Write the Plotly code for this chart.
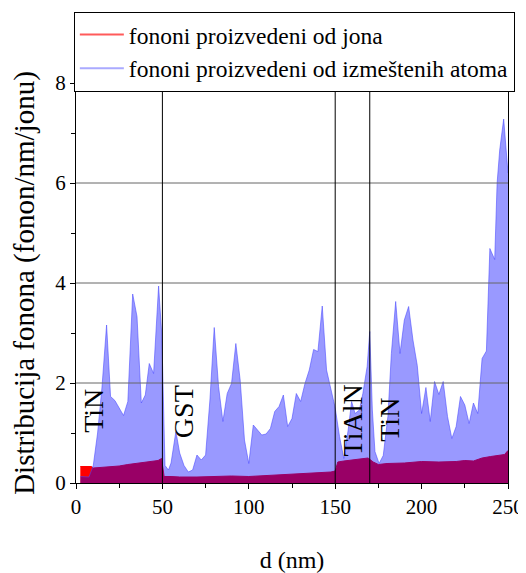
import plotly.graph_objects as go

# ---- data ----
d_ion = [2.5, 5, 7.5, 9, 10, 15, 20, 25, 30, 35, 40, 45, 47.5, 49.5, 51, 55, 60, 70, 80, 90,
         100, 110, 120, 130, 140, 147.5, 150, 151.5, 155, 160, 165, 169, 172, 175, 180, 190,
         200, 210, 220, 225, 230, 235, 240, 245, 248, 250]
ion = [0.33, 0.33, 0.33, 0.33, 0.30, 0.31, 0.33, 0.34, 0.37, 0.39, 0.41, 0.44, 0.45, 0.49, 0.13,
       0.13, 0.12, 0.12, 0.13, 0.14, 0.13, 0.15, 0.16, 0.18, 0.20, 0.22, 0.24, 0.42, 0.44, 0.46,
       0.47, 0.50, 0.42, 0.37, 0.39, 0.40, 0.43, 0.42, 0.43, 0.45, 0.44, 0.50, 0.53, 0.55, 0.57, 0.65]

d_atom = [2.5, 5, 7.5, 10, 12.5, 15, 17.7, 20, 22.5, 25, 27.5, 30, 32.8, 35.3, 37.8, 40.1, 42.4,
          44.9, 47.8, 49.7, 51.5, 53.5, 55, 57.8, 60, 62.5, 65, 67.5, 70, 72.5, 75, 77.5, 80, 82.5,
          85, 87.5, 90, 92.5, 95, 97.5, 100, 102.6, 105, 107.5, 110, 112.5, 115, 117.5, 120,
          122.5, 125, 127.5, 130, 132.5, 135, 137.5, 140, 142.5, 145, 147.5, 150, 152.5, 155,
          157.5, 159.5, 161.5, 164, 166, 168.5, 170, 171.5, 173, 175.4, 177.8, 180.5, 182.5, 185,
          187.5, 190, 192.5, 195, 197.5, 200, 202.5, 205, 207.5, 210, 212.5, 215, 217.5, 220,
          222.5, 225, 227.5, 230, 232.5, 235, 237.5, 239.5, 242.3, 243.7, 245.2, 247.5, 250]
atom = [0.13, 0.13, 0.12, 0.35, 1.0, 1.9, 3.16, 1.73, 1.65, 1.5, 1.35, 1.63, 3.78, 3.33, 1.6, 1.76,
        2.39, 2.19, 3.94, 2.93, 0.35, 0.26, 0.4, 1.03, 0.6, 0.35, 0.22, 0.26, 0.56, 0.46, 0.56, 1.66,
        3.11, 1.93, 1.23, 1.79, 1.99, 2.79, 2.06, 0.86, 0.39, 1.16, 1.05, 0.96, 0.98, 1.09, 1.43,
        1.53, 1.76, 1.13, 1.29, 1.79, 1.63, 1.99, 2.26, 2.67, 2.63, 3.54, 2.26, 1.86, 1.5, 0.93,
        0.49, 1.06, 1.63, 1.39, 1.46, 1.79, 2.33, 3.03, 1.46, 0.63, 0.39, 0.55, 1.33, 2.59, 3.63,
        2.59, 3.26, 3.53, 2.86, 2.35, 1.39, 1.91, 1.23, 2.03, 1.77, 2.03, 1.33, 0.89, 1.13, 1.73,
        1.56, 1.19, 1.6, 1.39, 2.49, 2.64, 4.69, 4.47, 6.0, 6.66, 7.28, 6.2]

series_names = ["fononi proizvedeni od jona", "fononi proizvedeni od izmeštenih atoma"]
layer_boundaries = [50, 150, 170]
layer_names = ["TiN", "GST", "TiAlN", "TiN"]
layer_label_x = [10, 62, 160, 181]
layer_label_y = [1.45, 1.42, 1.26, 1.26]
x_ticks = [0, 50, 100, 150, 200, 250]
y_ticks = [0, 2, 4, 6, 8]
y_grid = [2, 4, 6]

FONT = "Liberation Serif"

fig = go.Figure()
fig.add_trace(go.Scatter(x=d_ion, y=ion, mode="lines", fill="tozeroy",
                         fillcolor="rgb(255,0,0)", line=dict(color="rgb(255,0,0)", width=1),
                         showlegend=False))
fig.add_trace(go.Scatter(x=d_atom, y=atom, mode="lines", fill="tozeroy",
                         fillcolor="rgba(0,0,255,0.4)", line=dict(color="rgba(70,70,255,0.55)", width=1),
                         showlegend=False))
# legend entries (line samples)
fig.add_trace(go.Scatter(x=[None], y=[None], mode="lines", name=series_names[0],
                         line=dict(color="rgb(255,90,90)", width=2)))
fig.add_trace(go.Scatter(x=[None], y=[None], mode="lines", name=series_names[1],
                         line=dict(color="rgb(170,170,255)", width=2)))

shapes = []
for g in y_grid:
    shapes.append(dict(type="line", xref="x", yref="y", x0=0, x1=250, y0=g, y1=g,
                       line=dict(color="#666666", width=1)))
for b in layer_boundaries:
    shapes.append(dict(type="line", xref="x", yref="y", x0=b, x1=b, y0=0, y1=8,
                       line=dict(color="black", width=1)))

annotations = []
for name, lx, ly in zip(layer_names, layer_label_x, layer_label_y):
    annotations.append(dict(x=lx, y=ly, xref="x", yref="y", text=name, showarrow=False,
                            textangle=-90, font=dict(family=FONT, size=28, color="black")))

fig.update_layout(
    width=526, height=565,
    margin=dict(l=68, r=26, t=75, b=90, autoexpand=False),
    paper_bgcolor="white", plot_bgcolor="white",
    font=dict(family=FONT, size=21, color="black"),
    shapes=shapes, annotations=annotations,
    legend=dict(x=-0.005, y=1.178, xanchor="left", yanchor="top", bgcolor="white",
                bordercolor="black", borderwidth=1, font=dict(family=FONT, size=23.5),
                tracegroupgap=0, itemwidth=44),
    xaxis=dict(range=[0, 250], tickvals=x_ticks, ticks="outside", ticklen=5, tickcolor="black",
               showline=True, linecolor="black", mirror=True, showgrid=False, zeroline=False,
               automargin=False,
               minor=dict(dtick=25, ticks="outside", ticklen=4, tickcolor="black", showgrid=False),
               title=dict(text="d (nm)", font=dict(size=24), standoff=32)),
    yaxis=dict(range=[0, 8], tickvals=y_ticks, ticks="outside", ticklen=5, tickcolor="black",
               showline=True, linecolor="black", mirror=True, showgrid=False, zeroline=False,
               automargin=False,
               minor=dict(dtick=1, ticks="outside", ticklen=4, tickcolor="black", showgrid=False),
               title=dict(text="Distribucija fonona (fonon/nm/jonu)", font=dict(size=29), standoff=26)),
)

fig.write_html("out.html")
